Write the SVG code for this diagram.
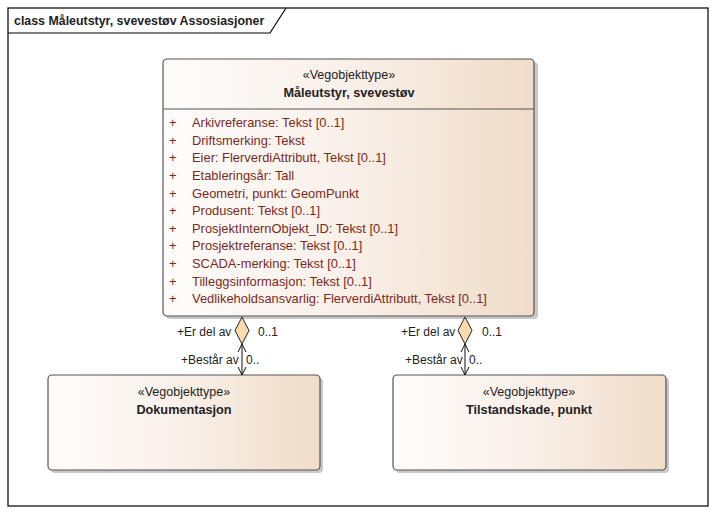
<svg xmlns="http://www.w3.org/2000/svg" width="716" height="514" viewBox="0 0 716 514">
<style>
  text { font-family: "Liberation Sans", Arial, sans-serif; font-size: 12px; fill: #222; }
  .bold { font-weight: bold; font-size: 12.7px; }
  .title { font-weight: bold; font-size: 12.4px; }
  .st { font-size: 12.5px; }
  .c { text-anchor: middle; }
  .attr { fill: #7a2a1a; font-size: 12.9px; }
  .box { fill: url(#g); stroke: #555; stroke-width: 1.2; }
  .shadow { fill: #c8c8c8; }
  .conn { stroke: #111; stroke-width: 1; fill: none; }
  .dia { fill: #f9dcae; stroke: #222; stroke-width: 1; }
  .lbl { font-size: 12px; fill: #222; }
</style>
<defs>
  <linearGradient id="g" x1="0" y1="0" x2="1" y2="0">
    <stop offset="0" stop-color="#fefcfb"/>
    <stop offset="0.5" stop-color="#f9f0e9"/>
    <stop offset="1" stop-color="#f0dcc8"/>
  </linearGradient>
</defs>
<rect x="0" y="0" width="716" height="514" fill="#ffffff"/>
<g id="frame">
  <rect x="8" y="8" width="700" height="498" fill="none" stroke="#000" stroke-width="1.2"/>
  <path d="M8,33 L270,33 L286,8" fill="none" stroke="#000" stroke-width="1.2"/>
  <text x="14" y="25" class="title">class Måleutstyr, svevestøv Assosiasjoner</text>
</g>
<g id="node-maleutstyr">
  <rect x="166" y="62" width="372" height="257" rx="4" class="shadow"/>
  <rect x="163" y="59" width="371" height="257" rx="4" class="box"/>
  <line x1="163" y1="109" x2="534" y2="109" stroke="#555" stroke-width="1"/>
  <text x="349" y="79" class="c st">«Vegobjekttype»</text>
  <text x="349" y="97" class="c bold">Måleutstyr, svevestøv</text>
  <g>
    <text x="169" y="127" class="attr">+</text><text x="192" y="127" class="attr">Arkivreferanse: Tekst [0..1]</text>
    <text x="169" y="145" class="attr">+</text><text x="192" y="145" class="attr">Driftsmerking: Tekst</text>
    <text x="169" y="162" class="attr">+</text><text x="192" y="162" class="attr">Eier: FlerverdiAttributt, Tekst [0..1]</text>
    <text x="169" y="180" class="attr">+</text><text x="192" y="180" class="attr">Etableringsår: Tall</text>
    <text x="169" y="198" class="attr">+</text><text x="192" y="198" class="attr">Geometri, punkt: GeomPunkt</text>
    <text x="169" y="215" class="attr">+</text><text x="192" y="215" class="attr">Produsent: Tekst [0..1]</text>
    <text x="169" y="233" class="attr">+</text><text x="192" y="233" class="attr">ProsjektInternObjekt_ID: Tekst [0..1]</text>
    <text x="169" y="250" class="attr">+</text><text x="192" y="250" class="attr">Prosjektreferanse: Tekst [0..1]</text>
    <text x="169" y="268" class="attr">+</text><text x="192" y="268" class="attr">SCADA-merking: Tekst [0..1]</text>
    <text x="169" y="286" class="attr">+</text><text x="192" y="286" class="attr">Tilleggsinformasjon: Tekst [0..1]</text>
    <text x="169" y="303" class="attr">+</text><text x="192" y="303" class="attr">Vedlikeholdsansvarlig: FlerverdiAttributt, Tekst [0..1]</text>
  </g>
</g>
<g id="node-dokumentasjon">
  <rect x="51" y="378" width="272" height="95" rx="4" class="shadow"/>
  <rect x="48" y="375" width="272" height="95" rx="4" class="box"/>
  <text x="184" y="396" class="c st">«Vegobjekttype»</text>
  <text x="184" y="414" class="c bold">Dokumentasjon</text>
</g>
<g id="node-tilstandskade">
  <rect x="396" y="378" width="273" height="95" rx="4" class="shadow"/>
  <rect x="393" y="375" width="273" height="95" rx="4" class="box"/>
  <text x="529" y="396" class="c st">«Vegobjekttype»</text>
  <text x="529" y="414" class="c bold">Tilstandskade, punkt</text>
</g>
<g id="connectors">
  <line x1="242" y1="344" x2="242" y2="375" class="conn"/>
  <path d="M242,317 L249,330.5 L242,344 L235,330.5 Z" class="dia"/>
  <path d="M238,352 L242,344 L246,352" class="conn"/>
  <path d="M238,367 L242,375 L246,367" class="conn"/>
  <text x="177" y="336" class="lbl">+Er del av</text>
  <text x="258" y="336" class="lbl">0..1</text>
  <text x="181" y="364" class="lbl">+Består av</text>
  <text x="246" y="364" class="lbl">0..</text>

  <line x1="465" y1="344" x2="465" y2="375" class="conn"/>
  <path d="M465,317 L472,330.5 L465,344 L458,330.5 Z" class="dia"/>
  <path d="M461,352 L465,344 L469,352" class="conn"/>
  <path d="M461,367 L465,375 L469,367" class="conn"/>
  <text x="401" y="336" class="lbl">+Er del av</text>
  <text x="482" y="336" class="lbl">0..1</text>
  <text x="405" y="364" class="lbl">+Består av</text>
  <text x="469" y="364" class="lbl">0..</text>
</g>
</svg>
